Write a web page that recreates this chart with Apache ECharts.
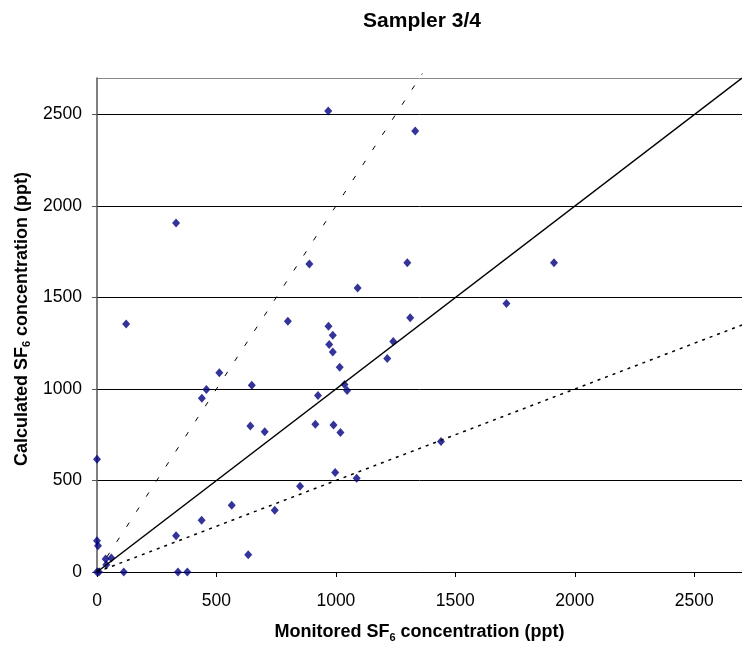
<!DOCTYPE html>
<html>
<head>
<meta charset="utf-8">
<script src="https://cdn.jsdelivr.net/npm/echarts@6/dist/echarts.min.js"></script>
<style>
html,body{margin:0;padding:0;background:#fff;}
#chart{width:742px;height:648px;}
</style>
</head>
<body>
<div id="chart"></div>
<script>
var titleText = 'Sampler 3/4';
var xAxisTitle = 'Monitored SF{sub|6} concentration (ppt)';
var yAxisTitle = 'Calculated SF{sub|6} concentration (ppt)';
var monitored = [0, 0, 4, 0, 8, 36, 60, 39, 112, 331, 339, 378, 438, 564, 633, 642, 702, 744, 850, 914, 990, 1019, 997, 1087, 1440, 331, 122, 512, 458, 439, 648, 799, 889, 969, 987, 972, 987, 1016, 925, 1036, 1047, 1091, 968, 1332, 1299, 1311, 1240, 1215, 1714, 1913];
var calculated = [616, 171, 143, 0, 0, 71, 76, 40, 0, 198, 0, 0, 283, 365, 94, 798, 767, 338, 469, 807, 803, 762, 544, 512, 713, 1908, 1356, 1089, 998, 950, 1021, 1370, 1683, 1343, 1294, 1243, 1203, 1119, 965, 1025, 992, 1552, 2519, 2410, 1690, 1390, 1260, 1167, 1467, 1690];
var lineOneToOne = [[0, 0], [2700, 2700]];
var lineTwoToOne = [[0, 0], [1362, 2724]];
var lineOneToTwo = [[0, 0], [2700, 1350]];
var yTicks = [0, 500, 1000, 1500, 2000, 2500];
var xTicks = [0, 500, 1000, 1500, 2000, 2500];

var points = monitored.map(function (m, i) { return [m, calculated[i]]; });
var font = 'Arial, "Liberation Sans", sans-serif';
var subRich = {sub: {fontFamily: font, fontWeight: 'bold', fontSize: 11, fill: '#000', color: '#000', verticalAlign: 'bottom', padding: [10, 0, 0, 0]}};

var chart = echarts.init(document.getElementById('chart'), null, {renderer: 'canvas'});
chart.setOption({
  animation: false,
  backgroundColor: '#ffffff',
  graphic: [
    {
      type: 'text', x: 422, y: 21, silent: true,
      style: {text: titleText, fill: '#000', font: 'bold 21px ' + font, textAlign: 'center', textVerticalAlign: 'middle'}
    },
    {
      type: 'text', x: 22, y: 319, rotation: Math.PI / 2, silent: true,
      style: {
        text: yAxisTitle, fill: '#000', fontFamily: font, fontWeight: 'bold', fontSize: 18,
        align: 'center', verticalAlign: 'middle', rich: subRich
      }
    }
  ],
  grid: {left: 97, top: 78, width: 652, height: 495, containLabel: false},
  xAxis: {
    type: 'value',
    min: 0, max: 2700, interval: 500,
    name: xAxisTitle,
    nameLocation: 'middle',
    nameGap: 50,
    nameTextStyle: {fontFamily: font, fontWeight: 'bold', fontSize: 18, color: '#000', rich: subRich},
    axisLine: {show: true, onZero: false, lineStyle: {color: '#000', width: 1}},
    axisTick: {show: true, inside: false, length: 5, lineStyle: {color: '#000'}},
    axisLabel: {
      fontFamily: font, fontSize: 17.5, color: '#000', margin: 20,
      showMaxLabel: false,
      formatter: function (v) { return xTicks.indexOf(v) >= 0 ? String(v) : ''; }
    },
    splitLine: {show: false}
  },
  yAxis: {
    type: 'value',
    min: 0, max: 2700, interval: 500,
    axisLine: {show: true, onZero: false, lineStyle: {color: '#555', width: 1.5}},
    axisTick: {show: true, inside: false, length: 5, lineStyle: {color: '#555'}},
    axisLabel: {
      fontFamily: font, fontSize: 17.5, color: '#000', margin: 15,
      showMaxLabel: false,
      formatter: function (v) { return yTicks.indexOf(v) >= 0 ? String(v) : ''; }
    },
    splitLine: {show: true, lineStyle: {color: ['#000', '#000', '#000', '#000', '#000', '#000', '#888'], width: 1}}
  },
  series: [
    {
      type: 'line', data: lineOneToOne, symbol: 'none', silent: true,
      lineStyle: {color: '#000', width: 1.5, type: 'solid'}
    },
    {
      type: 'line', data: lineTwoToOne, symbol: 'none', silent: true, clip: false,
      lineStyle: {color: '#000', width: 1, type: [5, 13]}
    },
    {
      type: 'line', data: lineOneToTwo, symbol: 'none', silent: true,
      lineStyle: {color: '#000', width: 1.5, type: [3, 5]}
    },
    {
      type: 'scatter', data: points, symbol: 'diamond', symbolSize: [8, 9],
      itemStyle: {color: '#000080'}
    }
  ]
});
</script>
</body>
</html>
